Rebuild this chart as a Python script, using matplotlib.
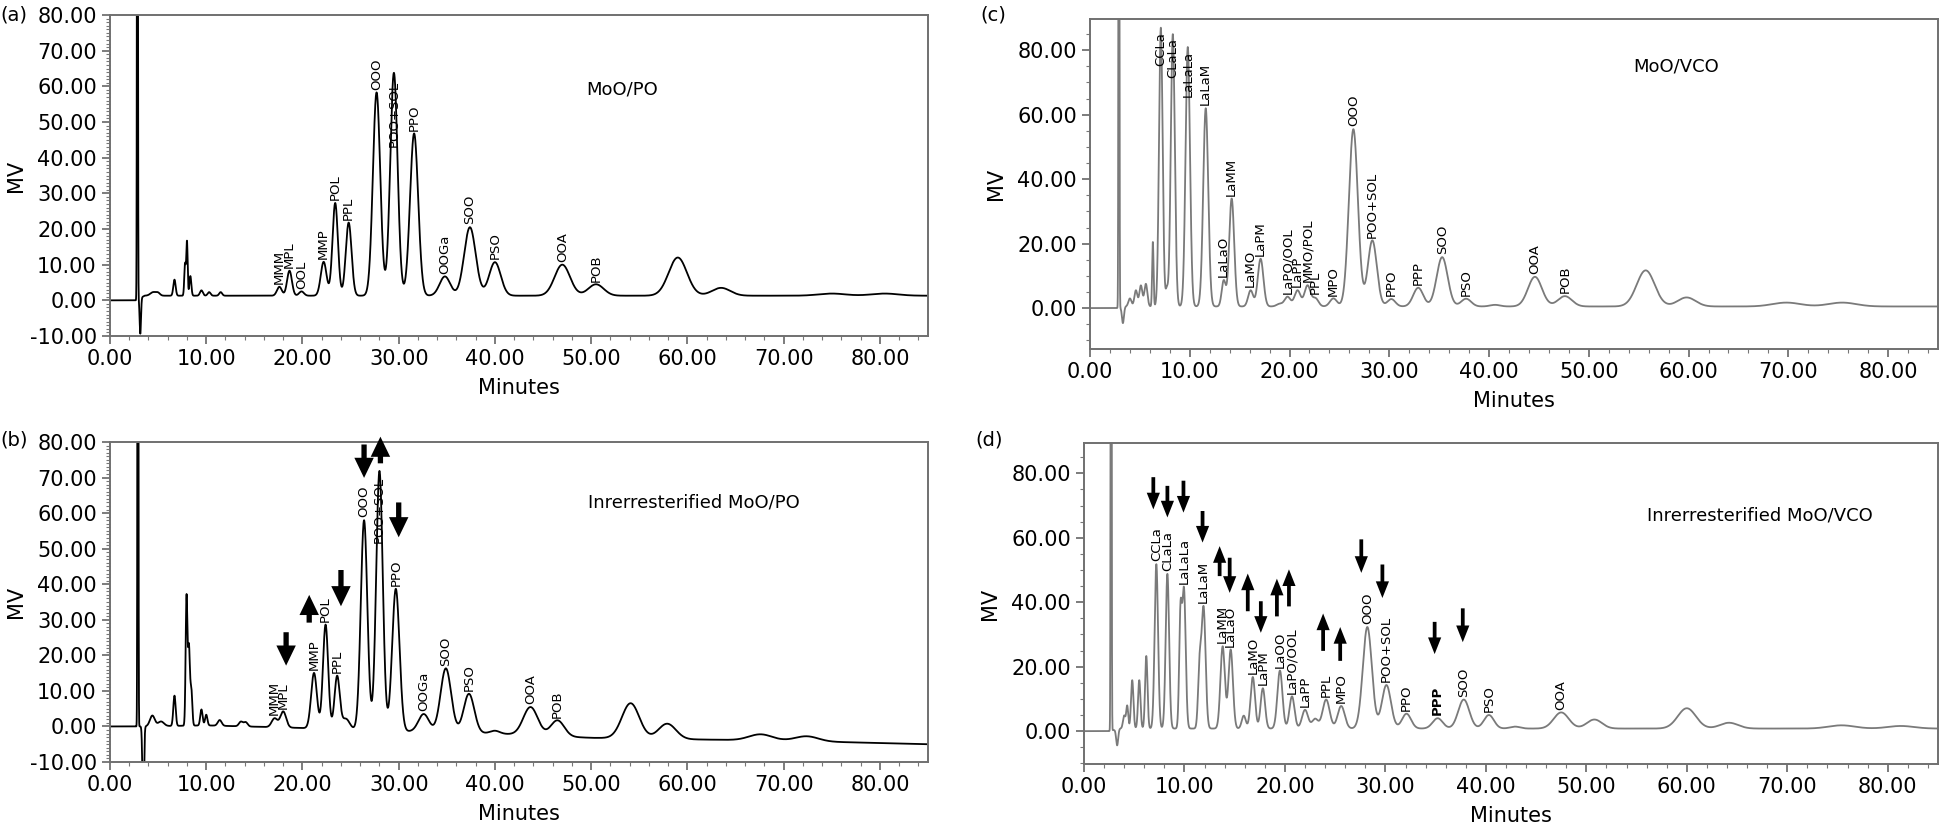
import numpy as np
import matplotlib.pyplot as plt
from matplotlib.ticker import MultipleLocator, FormatStrFormatter

plt.rcParams['font.family'] = ['DejaVu Sans']

# ---------------- (a) MoO/PO : peak table (retention time, height above baseline, width) ----
a_rt = [2.85, 3.15, 4.5, 5.0, 6.7, 7.8, 8.0, 8.35, 9.5, 10.3, 11.5,
        17.6, 18.65, 19.9, 22.2, 23.4, 24.8, 27.7, 29.5, 31.6,
        34.8, 37.4, 40.0, 47.0, 50.5, 59.0, 63.5, 75.0, 80.5]
a_height = [300, -10, 1.0, 0.7, 4.5, 9, 15, 5.5, 1.5, 1.0, 1.0,
            2.5, 7.0, 1.2, 9.5, 26, 20.5, 57, 62.5, 45.5,
            5.4, 19.2, 9.4, 8.7, 3.2, 10.7, 2.2, 0.6, 0.6]
a_width = [0.04, 0.07, 0.3, 0.2, 0.12, 0.08, 0.07, 0.1, 0.15, 0.15, 0.15,
           0.25, 0.25, 0.25, 0.3, 0.28, 0.3, 0.38, 0.38, 0.42,
           0.55, 0.6, 0.6, 0.8, 0.8, 0.95, 0.95, 1.4, 1.4]
a_base_t = [0, 2.7, 3.6, 85]
a_base_y = [0, 0, 1.3, 1.3]
a_names = ['MMM', 'MPL', 'OOL', 'MMP', 'POL', 'PPL', 'OOO', 'POO+SOL', 'PPO',
           'OOGa', 'SOO', 'PSO', 'OOA', 'POB']
a_name_rt = [17.6, 18.65, 19.9, 22.2, 23.4, 24.8, 27.7, 29.5, 31.6,
             34.8, 37.4, 40.0, 47.0, 50.5]

# ---------------- (b) interesterified MoO/PO ----------------
b_rt = [2.9, 3.45, 4.4, 5.3, 6.7, 7.95, 8.2, 8.45, 9.5, 10.0, 11.4, 13.6, 14.1,
        17.1, 18.0, 21.2, 22.4, 23.6, 24.5, 26.4, 28.0, 29.7,
        32.6, 34.9, 37.3, 40.0, 43.7, 46.5, 54.1, 57.9, 67.6, 72.4]
b_height = [300, -25, 3, 1.3, 8.5, 36, 22, 10, 4.5, 3, 1.6, 1.3, 1.2,
            2.5, 4.5, 15.6, 29.3, 14.8, 3, 59, 73, 40,
            5, 18, 11, 0.8, 7.9, 4.5, 9.9, 4.3, 1.7, 1.4]
b_width = [0.04, 0.08, 0.25, 0.3, 0.12, 0.09, 0.1, 0.1, 0.12, 0.12, 0.2, 0.2, 0.2,
           0.3, 0.3, 0.3, 0.27, 0.27, 0.4, 0.34, 0.34, 0.38,
           0.55, 0.55, 0.55, 0.5, 0.75, 0.7, 0.9, 0.9, 1.2, 1.2]
b_base_t = [0, 3, 10, 19.5, 31, 40, 50, 62, 70, 76, 85]
b_base_y = [0, 0, 0.3, -0.4, -1.4, -2.0, -3.2, -3.7, -4.0, -4.4, -5.0]
b_names = ['MMM', 'MPL', 'MMP', 'POL', 'PPL', 'OOO', 'POO+SOL', 'PPO',
           'OOGa', 'SOO', 'PSO', 'OOA', 'POB']
b_name_rt = [17.1, 18.0, 21.2, 22.4, 23.6, 26.4, 28.0, 29.7,
             32.6, 34.9, 37.3, 43.7, 46.5]
b_arrow_t = [18.3, 20.7, 24.0, 26.4, 28.1, 30.0]
b_arrow_from = [26.5, 29.2, 44.0, 79.3, 74.0, 63.0]
b_arrow_to = [17.1, 37.0, 33.8, 69.9, 81.5, 53.2]

# ---------------- (c) MoO/VCO ----------------
c_rt = [2.9, 3.3, 4.0, 4.6, 5.1, 5.6, 6.3, 7.1, 7.7, 8.3, 9.8, 11.6, 13.4, 14.2,
        16.1, 17.1, 19.0, 19.8, 20.8, 21.8, 22.6, 24.4, 26.4, 28.3, 30.2,
        32.9, 35.3, 37.7, 40.6, 44.6, 47.6, 55.7, 59.8, 69.8, 75.4]
c_height = [300, -5, 2.5, 5, 6.5, 7, 20, 86.5, 5, 84.5, 80.5, 61.5, 8, 33.5,
            5, 14.8, 0.8, 3, 5, 6.5, 2.5, 2.5, 55, 20.5, 2.3,
            5.8, 15.3, 2.4, 0.5, 9.2, 3.2, 11.2, 2.8, 1.2, 1.2]
c_width = [0.04, 0.1, 0.15, 0.15, 0.15, 0.15, 0.07, 0.18, 0.12, 0.2, 0.22, 0.25, 0.2, 0.25,
           0.25, 0.28, 0.3, 0.3, 0.3, 0.3, 0.3, 0.35, 0.45, 0.45, 0.4,
           0.5, 0.55, 0.5, 0.5, 0.7, 0.7, 0.9, 0.9, 1.4, 1.4]
c_base_t = [0, 2.7, 3.6, 85]
c_base_y = [0, 0, 0.5, 0.5]
c_names = ['CCLa', 'CLaLa', 'LaLaLa', 'LaLaM', 'LaLaO', 'LaMM', 'LaMO', 'LaPM',
           'LaPO/OOL', 'LaPP', 'MMO/POL', 'PPL', 'MPO', 'OOO', 'POO+SOL', 'PPO',
           'PPP', 'SOO', 'PSO', 'OOA', 'POB']
c_name_rt = [7.1, 8.3, 9.8, 11.6, 13.4, 14.2, 16.1, 17.1,
             19.8, 20.8, 21.8, 22.6, 24.4, 26.4, 28.3, 30.2,
             32.9, 35.3, 37.7, 44.6, 47.6]

# ---------------- (d) interesterified MoO/VCO ----------------
d_rt = [2.7, 3.3, 4.0, 4.3, 4.8, 5.5, 6.2, 7.2, 8.3, 9.6, 9.95, 11.5, 11.9,
        13.8, 14.6, 15.9, 16.8, 17.8, 19.5, 20.7, 22.0, 23.0, 24.1, 25.6,
        28.2, 30.1, 32.1, 35.2, 37.8, 40.3, 42.9, 47.5, 50.8, 60.0, 64.2, 75.4, 81.3]
d_height = [300, -5, 4, 7, 15, 15, 22.5, 51, 48, 34, 43, 18, 37.5,
            25.5, 24.5, 4, 16, 12.5, 18, 10, 5.8, 3, 9, 7,
            31.5, 13.5, 4.6, 3.2, 9, 4.2, 0.6, 5, 2.8, 6.3, 1.8, 1.0, 0.8]
d_width = [0.04, 0.1, 0.12, 0.1, 0.12, 0.12, 0.12, 0.17, 0.17, 0.13, 0.17, 0.15, 0.2,
           0.22, 0.22, 0.2, 0.22, 0.22, 0.25, 0.25, 0.3, 0.3, 0.35, 0.35,
           0.45, 0.45, 0.45, 0.5, 0.55, 0.5, 0.5, 0.75, 0.75, 0.9, 0.9, 1.3, 1.3]
d_base_t = [0, 2.5, 3.6, 85]
d_base_y = [0, 0, 0.8, 0.8]
d_names = ['CCLa', 'CLaLa', 'LaLaLa', 'LaLaM', 'LaMM', 'LaLaO', 'LaMO', 'LaPM',
           'LaOO', 'LaPO/OOL', 'LaPP', 'PPL', 'MPO', 'OOO', 'POO+SOL', 'PPO',
           'PPP', 'SOO', 'PSO', 'OOA']
d_name_rt = [7.2, 8.3, 9.95, 11.9, 13.8, 14.6, 16.8, 17.8,
             19.5, 20.7, 22.0, 24.1, 25.6, 28.2, 30.1, 32.1,
             35.2, 37.8, 40.3, 47.5]
d_arrow_t = [6.9, 8.3, 9.9, 11.8, 13.5, 14.5, 16.3, 17.6, 19.2, 20.4,
             23.8, 25.5, 27.6, 29.7, 34.9, 37.7]
d_arrow_from = [78.8, 76.1, 77.7, 68.3, 48.1, 53.8, 37.2, 40.3, 35.6, 38.7,
                24.9, 21.8, 59.5, 51.7, 33.9, 38.1]
d_arrow_to = [68.8, 66.3, 67.8, 58.5, 57.4, 42.9, 48.9, 30.5, 47.3, 50.2,
              36.5, 32.3, 49.1, 41.3, 23.9, 27.6]

t = np.linspace(0, 85, 17001)


def trace(rt, height, width, base_t, base_y):
    y = np.interp(t, base_t, base_y)
    for c, h, s in zip(rt, height, width):
        y = y + h * np.exp(-0.5 * ((t - c) / s) ** 2)
    return y


def put_labels(ax, y, names, rts, fixed={}, bold=()):
    for name, rt in zip(names, rts):
        near = (t > rt - 0.25) & (t < rt + 0.25)
        top = y[near].max()
        fw = 'bold' if name in bold else 'normal'
        if name in fixed:
            ax.text(rt, fixed[name], name, rotation=90, ha='center', va='bottom',
                    fontsize=9.5, fontweight=fw)
        else:
            ax.annotate(name, xy=(rt, top), xytext=(0, 2), textcoords='offset points',
                        rotation=90, ha='center', va='bottom', fontsize=9.5, fontweight=fw)


def put_arrows(ax, ts, y0s, y1s, style):
    for x, y0, y1 in zip(ts, y0s, y1s):
        ax.annotate('', xy=(x, y1), xytext=(x, y0), annotation_clip=False,
                    arrowprops=dict(arrowstyle=style, color='black', lw=0,
                                    shrinkA=0, shrinkB=0, mutation_scale=10))


W, H = 1945, 833
fig = plt.figure(figsize=(W / 100, H / 100), dpi=100)


def make_axes(x0, y0, x1, y1, ylim, ymaj, ymin):
    ax = fig.add_axes([x0 / W, 1 - y1 / H, (x1 - x0) / W, (y1 - y0) / H])
    ax.set_xlim(0, 85)
    ax.set_ylim(*ylim)
    ax.xaxis.set_major_locator(MultipleLocator(10))
    ax.xaxis.set_minor_locator(MultipleLocator(2))
    ax.yaxis.set_major_locator(MultipleLocator(ymaj))
    ax.yaxis.set_minor_locator(MultipleLocator(ymin))
    ax.xaxis.set_major_formatter(FormatStrFormatter('%.2f'))
    ax.yaxis.set_major_formatter(FormatStrFormatter('%.2f'))
    ax.tick_params(which='major', length=6, width=1.2, color='#666666', labelsize=15)
    ax.tick_params(which='minor', length=3, width=0.8, color='#777777')
    for sp in ax.spines.values():
        sp.set_color('#707070')
        sp.set_linewidth(1.4)
    ax.set_xlabel('Minutes', fontsize=15)
    ax.set_ylabel('MV', fontsize=15)
    ax.xaxis.set_label_coords(0.5, -42 / (y1 - y0))
    ax.yaxis.set_label_coords(-84 / (x1 - x0), 0.5)
    return ax


ax_a = make_axes(110, 15, 928, 336, (-10, 80), 10, 1)
ax_b = make_axes(110, 442, 928, 762, (-10, 80), 10, 1)
ax_c = make_axes(1090, 19, 1938, 349, (-12.7, 89.7), 20, 5)
ax_d = make_axes(1084, 443, 1938, 764, (-10.2, 89.4), 20, 5)

ya = trace(a_rt, a_height, a_width, a_base_t, a_base_y)
yb = trace(b_rt, b_height, b_width, b_base_t, b_base_y)
yc = trace(c_rt, c_height, c_width, c_base_t, c_base_y)
yd = trace(d_rt, d_height, d_width, d_base_t, d_base_y)

ax_a.plot(t, ya, color='black', lw=1.3)
ax_b.plot(t, yb, color='black', lw=1.3)
ax_c.plot(t, yc, color='#7a7a7a', lw=1.3)
ax_d.plot(t, yd, color='#7a7a7a', lw=1.3)

put_labels(ax_a, ya, a_names, a_name_rt, fixed={'POO+SOL': 43})
put_labels(ax_b, yb, b_names, b_name_rt, fixed={'POO+SOL': 51.7})
put_labels(ax_c, yc, c_names, c_name_rt, fixed={'CCLa': 75, 'CLaLa': 71.4, 'LaLaLa': 65.5})
put_labels(ax_d, yd, d_names, d_name_rt, bold=('PPP',))

put_arrows(ax_b, b_arrow_t, b_arrow_from, b_arrow_to,
           'simple,head_length=1.45,head_width=1.4,tail_width=0.38')
put_arrows(ax_d, d_arrow_t, d_arrow_from, d_arrow_to,
           'simple,head_length=1.2,head_width=0.95,tail_width=0.27')

ax_a.text(49.5, 59, 'MoO/PO', fontsize=13, va='center', ha='left')
ax_b.text(49.7, 63, 'Inrerresterified MoO/PO', fontsize=13, va='center', ha='left')
ax_c.text(54.5, 75, 'MoO/VCO', fontsize=13, va='center', ha='left')
ax_d.text(56.0, 67, 'Inrerresterified MoO/VCO', fontsize=13, va='center', ha='left')

fig.text(0 / W, 1 - 15 / H, '(a)', fontsize=14, va='center', ha='left')
fig.text(0 / W, 1 - 440 / H, '(b)', fontsize=14, va='center', ha='left')
fig.text(980 / W, 1 - 15 / H, '(c)', fontsize=14, va='center', ha='left')
fig.text(975 / W, 1 - 440 / H, '(d)', fontsize=14, va='center', ha='left')

fig.savefig('out.png', dpi=100)
